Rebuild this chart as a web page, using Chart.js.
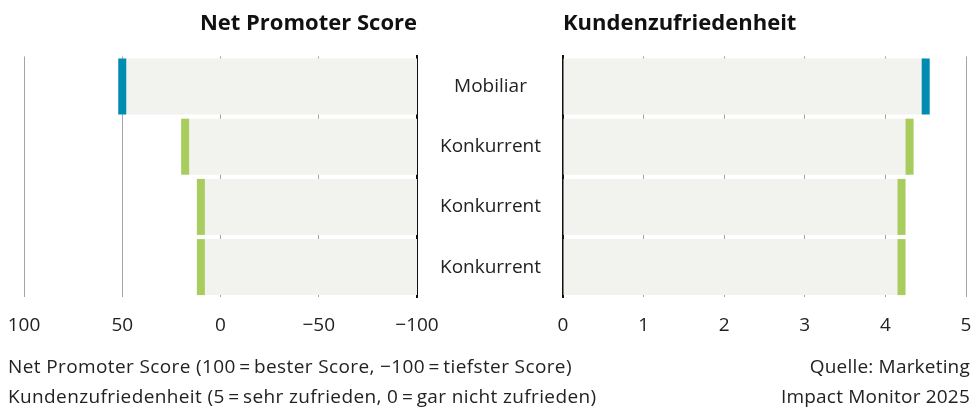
<!DOCTYPE html>
<html>
<head>
<meta charset="utf-8">
<script src="https://cdn.jsdelivr.net/npm/chart.js@4.4.1/dist/chart.umd.min.js"></script>
<style>
  html, body { margin: 0; padding: 0; background: #fff; }
  body { width: 972px; height: 413px; position: relative; overflow: hidden; font-family: "Open Sans", "Noto Sans", sans-serif; color: #222; }
  #wrapL { position: absolute; left: 0; top: 0; width: 563px; height: 354px; }
  #wrapR { position: absolute; left: 540px; top: 0; width: 432px; height: 354px; }
  .note { position: absolute; font-size: 19px; line-height: 30px; color: #222; white-space: nowrap; }
  #noteL { left: 8px; top: 351px; letter-spacing: 0.38px; }
  #noteR { right: 2px; top: 351px; text-align: right; letter-spacing: 0.2px; }
</style>
</head>
<body>
<div id="wrapL"><canvas id="cL"></canvas></div>
<div id="wrapR"><canvas id="cR"></canvas></div>
<div class="note" id="noteL">Net Promoter Score (100&#8201;=&#8201;bester Score, −100&#8201;=&#8201;tiefster Score)<br>Kundenzufriedenheit (5&#8201;=&#8201;sehr zufrieden, 0&#8201;=&#8201;gar nicht zufrieden)</div>
<div class="note" id="noteR">Quelle: Marketing<br>Impact Monitor 2025</div>
<script>
const categories = ['Mobiliar', 'Konkurrent', 'Konkurrent', 'Konkurrent'];
const npsValues = [50, 18, 10, 10];
const satisfactionValues = [4.5, 4.3, 4.2, 4.2];
const npsTicks = [100, 50, 0, -50, -100];
const satisfactionTicks = [0, 1, 2, 3, 4, 5];
const capColors = ['#008bb0', '#a8cc5d', '#a8cc5d', '#a8cc5d'];

const FONT = '"Open Sans", "Noto Sans", sans-serif';
const TEXT = '#222';
const BAR_GREY = '#f2f2ef';
const GRID = '#a0a6a8';

const capPlugin = {
  id: 'caps',
  afterDatasetsDraw(chart, args, opts) {
    const meta = chart.getDatasetMeta(0);
    const xs = chart.scales.x;
    const ctx = chart.ctx;
    ctx.save();
    meta.data.forEach((el, i) => {
      const px = xs.getPixelForValue(opts.values[i]);
      const h = el.height;
      ctx.fillStyle = capColors[i];
      ctx.fillRect(px - 4, el.y - h / 2, 8, h);
    });
    ctx.restore();
  }
};

const fmt = v => String(v).replace('-', '\u2212');
const noEdgePad = s => { s.paddingLeft = 0; s.paddingRight = 0; };

new Chart(document.getElementById('cL'), {
  type: 'bar',
  data: {
    labels: categories,
    datasets: [{
      data: npsValues.map(v => [-100, v]),
      backgroundColor: BAR_GREY,
      borderWidth: 0,
      categoryPercentage: 1,
      barPercentage: 0.93
    }]
  },
  plugins: [capPlugin],
  options: {
    indexAxis: 'y',
    responsive: true,
    maintainAspectRatio: false,
    animation: false,
    layout: { padding: { left: 24, right: 0, top: 0, bottom: 0 } },
    plugins: {
      legend: { display: false },
      tooltip: { enabled: false },
      caps: { values: npsValues },
      title: {
        display: true,
        text: 'Net Promoter Score',
        align: 'end',
        fullSize: false,
        color: '#111',
        font: { family: FONT, size: 22, weight: 'bold' },
        padding: { top: 11, bottom: 19 }
      }
    },
    scales: {
      x: {
        type: 'linear',
        reverse: true,
        min: -100,
        max: 100,
        afterBuildTicks: s => { s.ticks = npsTicks.map(v => ({ value: v })); },
        afterFit: noEdgePad,
        ticks: { callback: v => fmt(v), color: TEXT, font: { family: FONT, size: 19 }, padding: 17, maxRotation: 0 },
        grid: { color: GRID, lineWidth: 1, drawTicks: false },
        border: { display: false }
      },
      y: {
        position: 'right',
        afterFit: s => { s.width = 146; },
        ticks: { color: TEXT, font: { family: FONT, size: 19 }, crossAlign: 'center', padding: 15 },
        grid: { display: false },
        border: { display: true, color: '#111', width: 2 }
      }
    }
  }
});

new Chart(document.getElementById('cR'), {
  type: 'bar',
  data: {
    labels: categories,
    datasets: [{
      data: satisfactionValues,
      backgroundColor: BAR_GREY,
      borderWidth: 0,
      categoryPercentage: 1,
      barPercentage: 0.93
    }]
  },
  plugins: [capPlugin],
  options: {
    indexAxis: 'y',
    responsive: true,
    maintainAspectRatio: false,
    animation: false,
    layout: { padding: { left: 23, right: 6, top: 0, bottom: 0 } },
    plugins: {
      legend: { display: false },
      tooltip: { enabled: false },
      caps: { values: satisfactionValues },
      title: {
        display: true,
        text: 'Kundenzufriedenheit',
        align: 'start',
        fullSize: false,
        color: '#111',
        font: { family: FONT, size: 22, weight: 'bold' },
        padding: { top: 11, bottom: 19 }
      }
    },
    scales: {
      x: {
        type: 'linear',
        min: 0,
        max: 5,
        afterBuildTicks: s => { s.ticks = satisfactionTicks.map(v => ({ value: v })); },
        afterFit: noEdgePad,
        ticks: { color: TEXT, font: { family: FONT, size: 19 }, padding: 17, maxRotation: 0 },
        grid: { color: GRID, lineWidth: 1, drawTicks: false },
        border: { display: false }
      },
      y: {
        position: 'left',
        afterFit: s => { s.width = 0; },
        ticks: { display: false },
        grid: { display: false },
        border: { display: true, color: '#111', width: 2 }
      }
    }
  }
});
</script>
</body>
</html>
